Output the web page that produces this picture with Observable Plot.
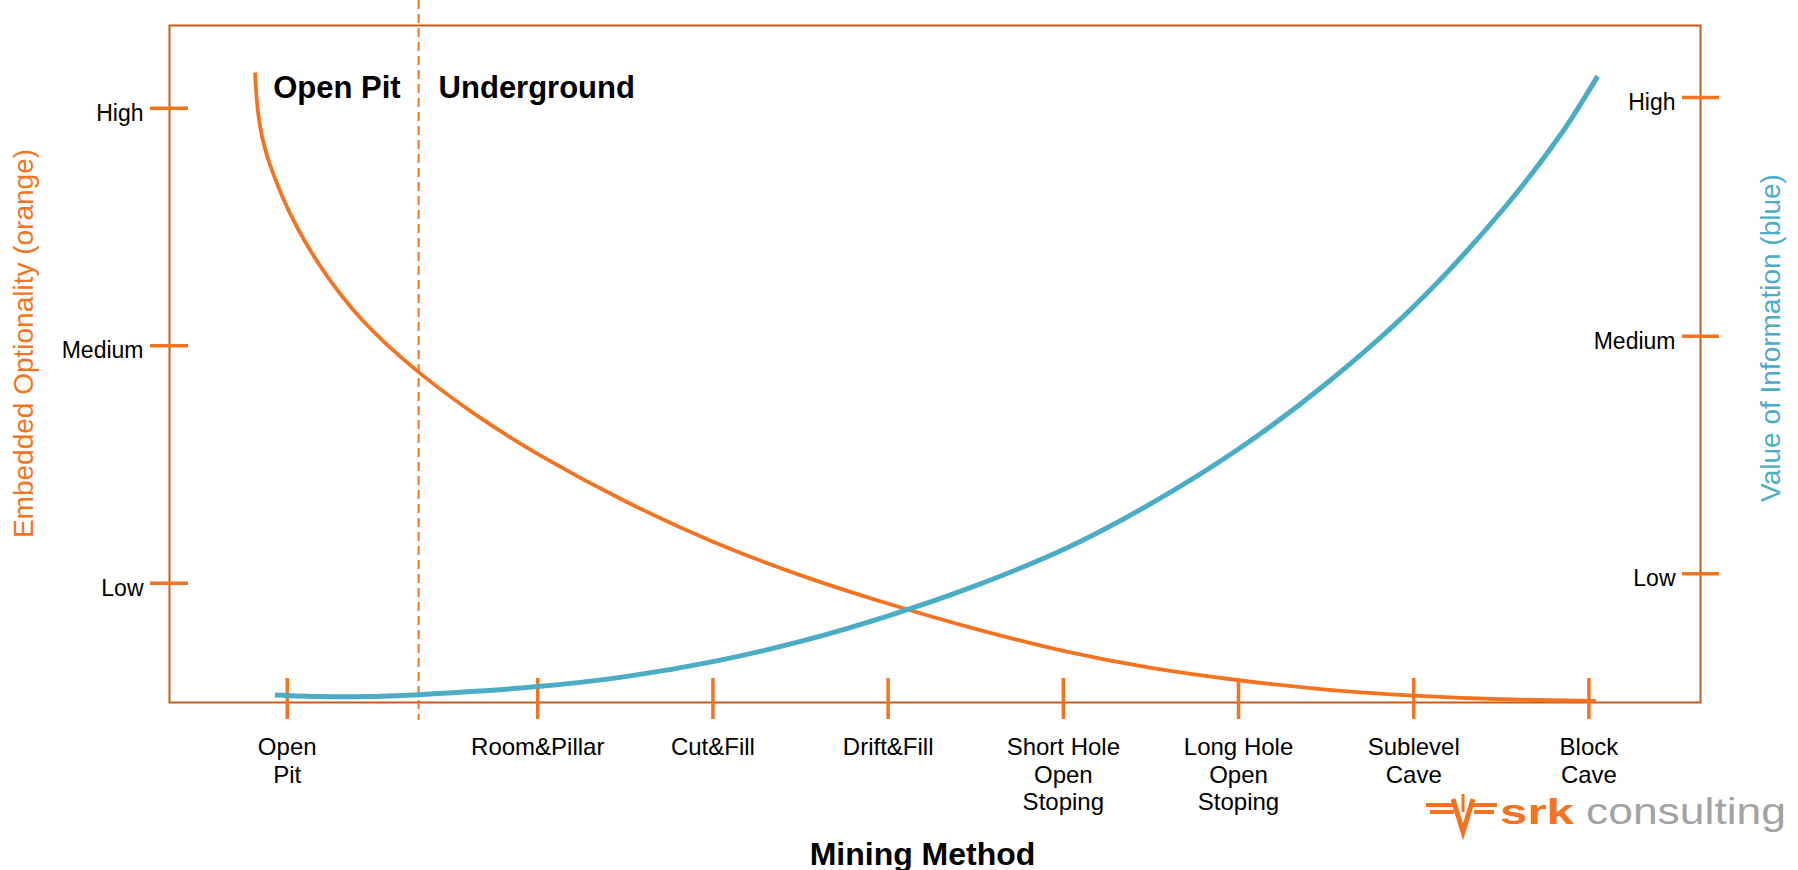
<!DOCTYPE html>
<html>
<head>
<meta charset="utf-8">
<script src="https://cdn.jsdelivr.net/npm/d3@7"></script>
<script src="https://cdn.jsdelivr.net/npm/@observablehq/plot@0.6"></script>
<style>
  html, body { margin: 0; padding: 0; background: #fff; overflow: hidden; }
  #wrap { position: relative; width: 1798px; height: 870px; }
  #wrap > svg { display: block; }
  #logo { position: absolute; left: 1420px; top: 790px; }
</style>
</head>
<body>
<div id="wrap"></div>
<script>
// Mining methods along the x axis and where each one sits
const methods = ["Open\nPit", "Room&Pillar", "Cut&Fill", "Drift&Fill",
  "Short Hole\nOpen\nStoping", "Long Hole\nOpen\nStoping", "Sublevel\nCave", "Block\nCave"];
const methodPos = [0, 1.43, 2.43, 3.43, 4.43, 5.43, 6.43, 7.43];

// Open pit / underground boundary
const dividerAt = 0.75;

// Qualitative levels on both vertical axes
const levels = ["Low", "Medium", "High"];
const optionalityTicks = [1, 2, 3];
const informationTicks = [1.04, 2.04, 3.045];

// Embedded optionality (orange curve)
const optX = [-0.184, -0.175, -0.158, -0.130, -0.084, -0.027, 0.047, 0.19, 0.418, 0.748, 1.10,
  1.43, 1.93, 2.43, 2.93, 3.44, 3.93, 4.44, 4.93, 5.43, 5.93, 6.43, 6.93, 7.47];
const optY = [3.15, 3.032, 2.927, 2.83, 2.729, 2.624, 2.506, 2.325, 2.102, 1.883, 1.693,
  1.54, 1.34, 1.17, 1.03, 0.91, 0.805, 0.71, 0.64, 0.59, 0.55, 0.525, 0.51, 0.505];

// Value of information (blue curve)
const infoX = [-0.07, 0.19, 0.44, 0.75, 1.10, 1.43, 1.93, 2.43, 2.93, 3.44, 3.93,
  4.44, 4.93, 5.43, 5.93, 6.43, 6.93, 7.27, 7.48];
const infoY = [0.53, 0.523, 0.523, 0.531, 0.546, 0.565, 0.607, 0.67, 0.755, 0.865, 0.99,
  1.145, 1.335, 1.565, 1.84, 2.165, 2.565, 2.89, 3.135];

const orange = "#f47320";
const frameColor = "#c65b1b";
const blue = "#4bacc6";

const methodLabel = new Map(methodPos.map((p, i) => [p, methods[i]]));
const leftLabel = new Map(optionalityTicks.map((p, i) => [p, levels[i]]));
const rightLabel = new Map(informationTicks.map((p, i) => [p, levels[i]]));

const chart = Plot.plot({
  width: 1798,
  height: 870,
  marginTop: 25,
  marginBottom: 168,
  marginLeft: 169,
  marginRight: 98,
  x: {domain: [-0.672, 8.067]},
  y: {domain: [0.498, 3.348]},
  style: {
    fontFamily: "'Liberation Sans', Arial, sans-serif",
    fontSize: "23px",
    color: "#000",
    background: "#fff",
    overflow: "visible"
  },
  marks: [
    Plot.frame({stroke: frameColor, strokeWidth: 2}),
    Plot.ruleX([dividerAt], {stroke: orange, strokeWidth: 2, strokeDasharray: "9,5",
      insetTop: -25, insetBottom: -18}),

    // left axis: ticks crossing the frame, then labels
    Plot.axisY(optionalityTicks, {anchor: "left", tickSize: 38, dx: 19, stroke: orange,
      strokeWidth: 3.5, fill: "none", label: null}),
    Plot.axisY(optionalityTicks, {anchor: "left", stroke: "none", tickSize: 19, tickPadding: 7,
      dy: 5, fontSize: 23, tickFormat: d => leftLabel.get(d), label: null}),

    // right axis: ticks crossing the frame, labels inside the plot
    Plot.axisY(informationTicks, {anchor: "right", tickSize: 37, dx: -19, stroke: orange,
      strokeWidth: 3.5, fill: "none", label: null}),
    Plot.axisY(informationTicks, {anchor: "right", stroke: "none", tickSize: 0, tickPadding: 0,
      dx: -25, dy: 5, textAnchor: "end", fontSize: 23, tickFormat: d => rightLabel.get(d), label: null}),

    // bottom axis
    Plot.axisX(methodPos, {anchor: "bottom", tickSize: 41, dy: -24, stroke: orange,
      strokeWidth: 3.5, fill: "none", label: null}),
    Plot.axisX(methodPos, {anchor: "bottom", stroke: "none", tickSize: 17, tickPadding: 16,
      lineHeight: 1.15, fontSize: 24, tickFormat: d => methodLabel.get(d), label: null}),

    // curves
    Plot.line(optX, {x: optX, y: optY, stroke: orange, strokeWidth: 3.8,
      curve: "basis", strokeLinecap: "butt"}),
    Plot.line(infoX, {x: infoX, y: infoY, stroke: blue, strokeWidth: 5,
      curve: "catmull-rom", strokeLinecap: "butt"}),

    // region labels either side of the boundary
    Plot.text(["Open Pit"], {x: [dividerAt], frameAnchor: "top", dy: 72, dx: -18,
      textAnchor: "end", lineAnchor: "bottom", fontWeight: "bold", fontSize: 31}),
    Plot.text(["Underground"], {x: [dividerAt], frameAnchor: "top", dy: 72, dx: 20,
      textAnchor: "start", lineAnchor: "bottom", fontWeight: "bold", fontSize: 31}),

    // axis titles
    Plot.text(["Embedded Optionality (orange)"], {frameAnchor: "left", dx: -145.5, dy: -20.5,
      rotate: -90, textAnchor: "middle", lineAnchor: "middle", fill: orange, fontSize: 28}),
    Plot.text(["Value of Information (blue)"], {frameAnchor: "right", dx: 71, dy: -26,
      rotate: -90, textAnchor: "middle", lineAnchor: "middle", fill: blue, fontSize: 28}),
    Plot.text(["Mining Method"], {frameAnchor: "bottom", dx: -12.5, dy: 162,
      textAnchor: "middle", lineAnchor: "bottom", fontWeight: "bold", fontSize: 32})
  ]
});

const wrap = document.getElementById("wrap");
wrap.appendChild(chart);

// company mark in the bottom-right corner
const logo = document.createElementNS("http://www.w3.org/2000/svg", "svg");
logo.setAttribute("id", "logo");
logo.setAttribute("width", "378");
logo.setAttribute("height", "60");
logo.innerHTML = `
  <g stroke="${orange}" stroke-width="4" fill="none" stroke-linecap="butt">
    <path d="M6,15H36M10,22H34M52,15H77M54,22H74"/>
    <path d="M33,9L43,42L53,9" stroke-width="5"/>
    <path d="M43,4V22" stroke-width="3"/>
  </g>
  <text x="80" y="34" font-family="'Liberation Sans', Arial, sans-serif" font-size="35"
    font-weight="900" fill="${orange}" textLength="74" lengthAdjust="spacingAndGlyphs">srk</text>
  <text x="166" y="34" font-family="'Liberation Sans', Arial, sans-serif" font-size="37"
    fill="#a3a3a3" textLength="200" lengthAdjust="spacingAndGlyphs">consulting</text>`;
wrap.appendChild(logo);
</script>
</body>
</html>
